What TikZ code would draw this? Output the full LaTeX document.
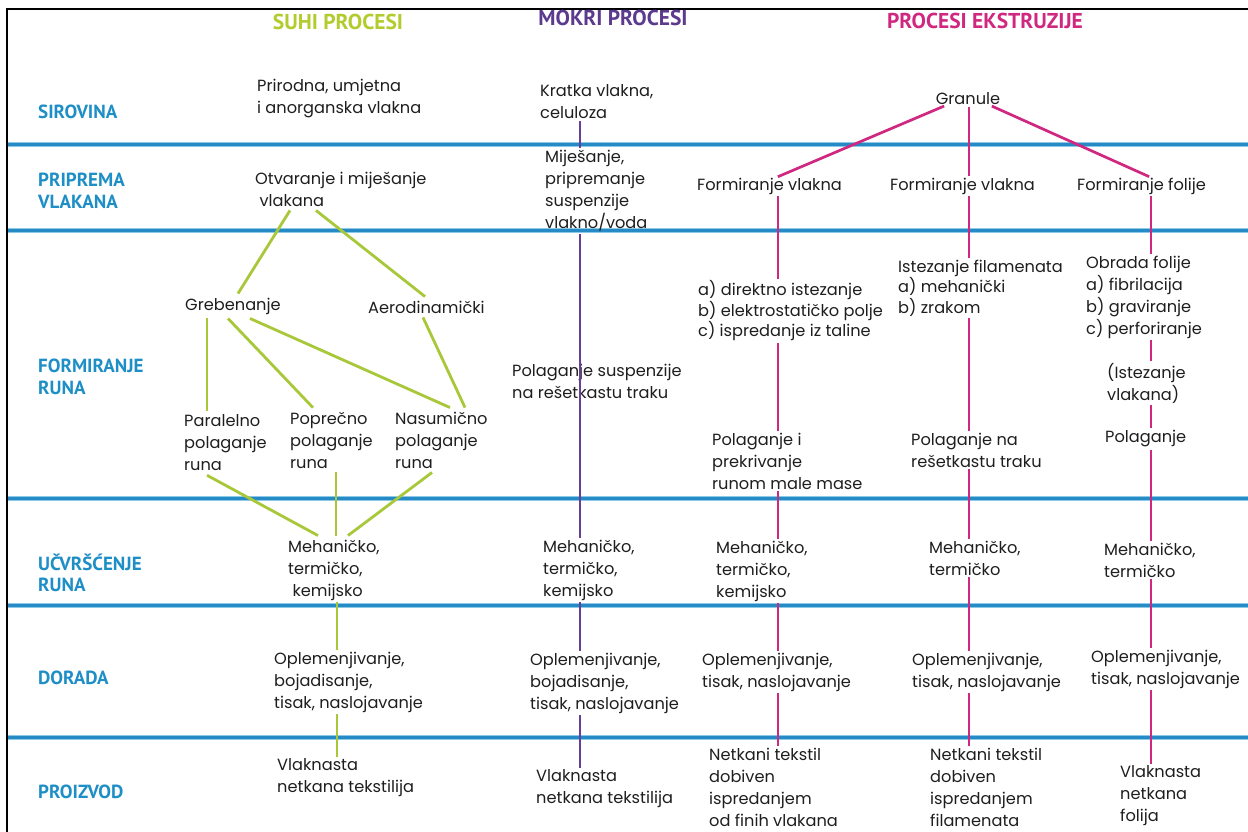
\documentclass[tikz,border=0pt]{standalone}
\usepackage{fontspec}
\setmainfont{Poppins}
\newfontfamily\labfont{PT Sans}
\definecolor{bl}{RGB}{38,138,196}
\definecolor{blh}{RGB}{140,200,232}
\definecolor{lab}{RGB}{30,143,198}
\definecolor{gr}{RGB}{168,200,58}
\definecolor{grt}{RGB}{178,204,46}
\definecolor{pu}{RGB}{104,62,152}
\definecolor{put}{RGB}{92,58,142}
\definecolor{mg}{RGB}{208,40,128}
\definecolor{ink}{RGB}{30,30,30}
\begin{document}
\begin{tikzpicture}[x=1pt,y=-1pt,
  txt/.style={anchor=west,align=left,inner sep=0pt,text=ink,font=\fontsize{16.2}{22}\selectfont},
  abc/.style={anchor=west,align=left,inner sep=0pt,text=ink,font=\fontsize{16.2}{20.5}\selectfont},
  rowlab/.style={anchor=west,align=left,inner sep=0pt,text=lab,font=\labfont\bfseries\fontsize{19}{21.5}\selectfont},
  ttl/.style={anchor=center,inner sep=0pt,font=\labfont\bfseries\fontsize{21.5}{24}\selectfont},
  gl/.style={draw=gr,line width=2.8pt},
  pl/.style={draw=pu,line width=2.4pt,shorten <=2pt,shorten >=2pt},
  ml/.style={draw=mg,line width=2.7pt,shorten <=2pt,shorten >=2pt},
  hband/.style={line width=5pt,draw=blh},
  hline/.style={line width=3pt,draw=bl}]
\useasboundingbox (0,0) rectangle (1248,832);
\fill[white] (0,0) rectangle (1248,832);
% frame
\draw[black,line width=1.5pt] (7,832) -- (7,9) -- (1248,9);
% horizontal blue lines
\foreach \yy in {145,230,498,605,737}{
  \draw[hband] (8,\yy) -- (1248,\yy);
  \draw[hline] (8,\yy) -- (1248,\yy);
}
% column axes
\coordinate (c1) at (337,0);
\coordinate (c2) at (580,0);
\coordinate (c3) at (778,0);
\coordinate (c4) at (969,0);
\coordinate (c5) at (1151,0);
% titles
\node[ttl,text=grt] (t1) at (338,22) {SUHI PROCESI};
\node[ttl,text=put] (t2) at (613,18) {MOKRI PROCESI};
\node[ttl,text=mg] (t3) at (985,21) {PROCESI EKSTRUZIJE};
% row labels
\node[rowlab] (r1) at (38,112) {SIROVINA};
\node[rowlab] (r2) at (38,191) {PRIPREMA\\VLAKANA};
\node[rowlab] (r3) at (38,377) {FORMIRANJE\\RUNA};
\node[rowlab] (r4) at (38,573) {UČVRŠĆENJE\\RUNA};
\node[rowlab] (r5) at (38,678) {DORADA};
\node[rowlab] (r6) at (38,792) {PROIZVOD};
% column 1
\node[txt] (n1) at (257,99) {Prirodna, umjetna\\i anorganska vlakna};
\node[txt] (n2) at (255,189) {Otvaranje i miješanje\\\ vlakana};
\node[txt] (greb) at (185,306) {Grebenanje};
\node[txt] (aero) at (368,307) {Aerodinamički};
\node[txt] (par) at (184,443) {Paralelno\\polaganje\\runa};
\node[txt] (pop) at (290,440) {Poprečno\\polaganje\\runa};
\node[txt] (nas) at (395,440) {Nasumično\\polaganje\\runa};
\node[txt] (meh1) at (288,570) {Mehaničko,\\termičko,\\\ kemijsko};
\node[txt] (opl1) at (274,682) {Oplemenjivanje,\\bojadisanje,\\tisak, naslojavanje};
\node[txt] (prod1) at (277,778) {Vlaknasta\\netkana tekstilija};
% column 2
\node[txt] (kr) at (540,102) {Kratka vlakna,\\celuloza};
\node[txt] (mij) at (545,191) {Miješanje,\\pripremanje\\suspenzije\\vlakno/voda};
\node[txt] (pol2) at (512,381) {Polaganje suspenzije\\na rešetkastu traku};
\node[txt] (meh2) at (543,570) {Mehaničko,\\termičko,\\kemijsko};
\node[txt] (opl2) at (530,683) {Oplemenjivanje,\\bojadisanje,\\tisak, naslojavanje};
\node[txt] (prod2) at (536,789) {Vlaknasta\\netkana tekstilija};
% extrusion
\node[txt,anchor=center] (gran) at (968,99) {Granule};
\node[txt] (f3) at (697,186) {Formiranje vlakna};
\node[txt] (f4) at (890,186) {Formiranje vlakna};
\node[txt] (f5) at (1077,186) {Formiranje folije};
\node[abc] (abc3) at (698,311) {a) direktno istezanje\\b) elektrostatičko polje\\c) ispredanje iz taline};
\node[txt] (pol3) at (712,461) {Polaganje i\\prekrivanje\\runom male mase};
\node[txt] (meh3) at (716,571) {Mehaničko,\\termičko,\\kemijsko};
\node[txt] (opl3) at (702,672) {Oplemenjivanje,\\tisak, naslojavanje};
\node[txt] (net3) at (709,787) {Netkani tekstil\\dobiven\\ispredanjem\\od finih vlakana};
\node[abc] (ist4) at (898,288) {Istezanje filamenata\\a) mehanički\\b) zrakom};
\node[txt] (pol4) at (911,450) {Polaganje na\\rešetkastu traku};
\node[txt] (meh4) at (929,558) {Mehaničko,\\termičko};
\node[txt] (opl4) at (912,672) {Oplemenjivanje,\\tisak, naslojavanje};
\node[txt] (net4) at (930,787) {Netkani tekstil\\dobiven\\ispredanjem\\filamenata};
\node[txt] (obr5) at (1086,297) {Obrada folije\\a) fibrilacija\\b) graviranje\\c) perforiranje};
\node[txt] (ist5) at (1107,383) {(Istezanje\\vlakana)};
\node[txt] (pol5) at (1105,439) {Polaganje};
\node[txt] (meh5) at (1104,560) {Mehaničko,\\termičko};
\node[txt] (opl5) at (1091,669) {Oplemenjivanje,\\tisak, naslojavanje};
\node[txt] (vl5) at (1120,796) {Vlaknasta\\netkana\\folija};
% green connectors
\draw[gl] ([xshift=35pt,yshift=-4pt]n2.south west) -- ([xshift=53pt,yshift=4pt]greb.north west);
\draw[gl] ([xshift=61pt,yshift=-4pt]n2.south west) -- ([xshift=57pt,yshift=4pt]aero.north west);
\draw[gl] ([xshift=22pt,yshift=-4pt]greb.south west) -- ([xshift=23pt,yshift=4pt]par.north west);
\draw[gl] ([xshift=43pt,yshift=-4pt]greb.south west) -- ([xshift=23pt,yshift=4pt]pop.north west);
\draw[gl] ([xshift=65pt,yshift=-4pt]greb.south west) -- ([xshift=55pt,yshift=4pt]nas.north west);
\draw[gl] ([xshift=55pt,yshift=-4pt]aero.south west) -- ([xshift=70pt,yshift=4pt]nas.north west);
\draw[gl] ([xshift=23pt,yshift=-4pt]par.south west) -- ([xshift=30pt,yshift=4pt]meh1.north west);
\draw[gl] ([xshift=46pt,yshift=-4pt]pop.south west) -- ([xshift=48pt,yshift=4pt]meh1.north west);
\draw[gl] ([xshift=37pt,yshift=-4pt]nas.south west) -- ([xshift=60pt,yshift=4pt]meh1.north west);
\draw[gl,shorten <=2pt,shorten >=2pt] (meh1.south -| c1) -- (opl1.north -| c1);
\draw[gl,shorten <=2pt,shorten >=2pt] (opl1.south -| c1) -- (prod1.north -| c1);
% purple connectors
\draw[pl] (kr.south -| c2) -- (mij.north -| c2);
\draw[pl] (mij.south -| c2) -- (meh2.north -| c2);
\draw[pl] (meh2.south -| c2) -- (opl2.north -| c2);
\draw[pl] (opl2.south -| c2) -- (prod2.north -| c2);
% magenta connectors
\draw[ml] ([xshift=-22pt]gran.south) -- ([xshift=79pt]f3.north west);
\draw[ml] (gran.south -| c4) -- (f4.north -| c4);
\draw[ml] ([xshift=22pt]gran.south) -- ([xshift=74pt]f5.north west);
\draw[ml] (f3.south -| c3) -- (abc3.north -| c3);
\draw[ml] (abc3.south -| c3) -- (pol3.north -| c3);
\draw[ml] (pol3.south -| c3) -- (meh3.north -| c3);
\draw[ml] (meh3.south -| c3) -- (opl3.north -| c3);
\draw[ml] (opl3.south -| c3) -- (net3.north -| c3);
\draw[ml] (f4.south -| c4) -- (ist4.north -| c4);
\draw[ml] (ist4.south -| c4) -- (pol4.north -| c4);
\draw[ml] (pol4.south -| c4) -- (meh4.north -| c4);
\draw[ml] (meh4.south -| c4) -- (opl4.north -| c4);
\draw[ml] (opl4.south -| c4) -- (net4.north -| c4);
\draw[ml] (f5.south -| c5) -- (obr5.north -| c5);
\draw[ml] (obr5.south -| c5) -- (ist5.north -| c5);
\draw[ml] (ist5.south -| c5) -- (pol5.north -| c5);
\draw[ml] (pol5.south -| c5) -- (meh5.north -| c5);
\draw[ml] (meh5.south -| c5) -- (opl5.north -| c5);
\draw[ml] (opl5.south -| c5) -- (vl5.north -| c5);
\end{tikzpicture}
\end{document}
